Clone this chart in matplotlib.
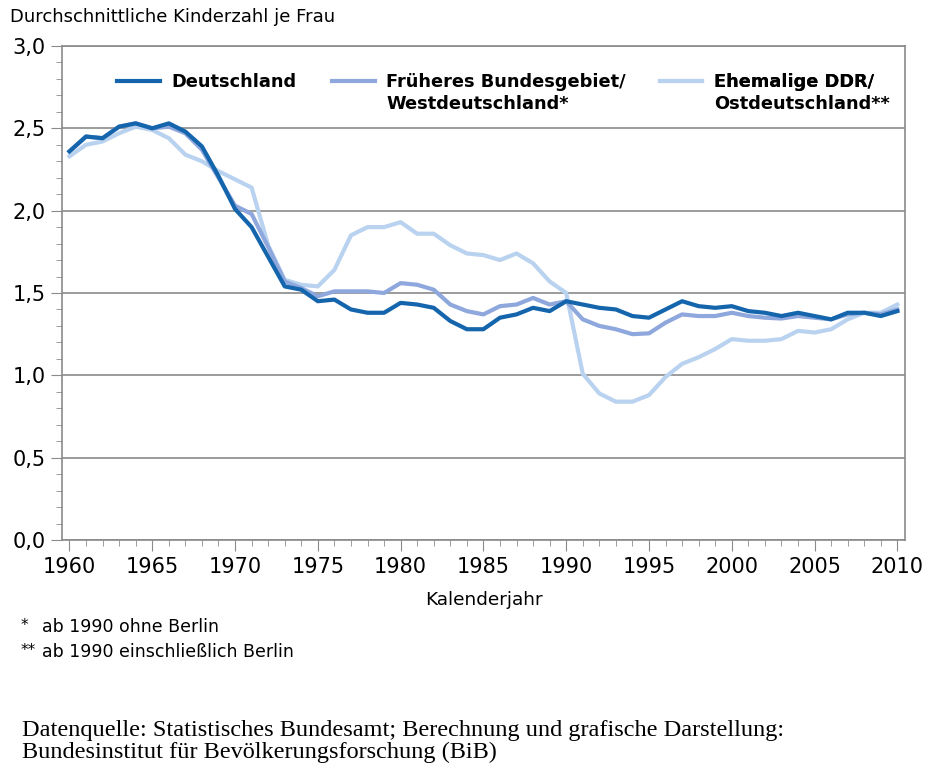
import matplotlib
matplotlib.use("Agg")
import matplotlib.pyplot as plt
from matplotlib.ticker import MultipleLocator, FuncFormatter

# Jahre 1960 - 2010
jahre = list(range(1960, 2011))

# Werte
deutschland = [2.36, 2.45, 2.44, 2.51, 2.53, 2.50, 2.53, 2.48, 2.39, 2.21,
               2.01, 1.90, 1.72, 1.54, 1.52, 1.45, 1.46, 1.40, 1.38, 1.38,
               1.44, 1.43, 1.41, 1.33, 1.28, 1.28, 1.35, 1.37, 1.41, 1.39,
               1.45, 1.43, 1.41, 1.40, 1.36, 1.35, 1.40, 1.45, 1.42, 1.41,
               1.42, 1.39, 1.38, 1.36, 1.38, 1.36, 1.34, 1.38, 1.38, 1.36,
               1.39]
west = [2.36, 2.45, 2.44, 2.51, 2.53, 2.50, 2.51, 2.47, 2.37, 2.20,
        2.03, 1.98, 1.78, 1.57, 1.53, 1.48, 1.51, 1.51, 1.51, 1.50,
        1.56, 1.55, 1.52, 1.43, 1.39, 1.37, 1.42, 1.43, 1.47, 1.43,
        1.45, 1.34, 1.30, 1.28, 1.25, 1.255, 1.32, 1.37, 1.36, 1.36,
        1.38, 1.36, 1.35, 1.345, 1.36, 1.35, 1.34, 1.37, 1.38, 1.37,
        1.40]
ost = [2.33, 2.40, 2.42, 2.47, 2.51, 2.49, 2.44, 2.34, 2.30, 2.24,
       2.19, 2.14, 1.79, 1.58, 1.55, 1.54, 1.64, 1.85, 1.90, 1.90,
       1.93, 1.86, 1.86, 1.79, 1.74, 1.73, 1.70, 1.74, 1.68, 1.57,
       1.50, 1.01, 0.89, 0.84, 0.84, 0.88, 0.99, 1.07, 1.11, 1.16,
       1.22, 1.21, 1.21, 1.22, 1.27, 1.26, 1.28, 1.34, 1.38, 1.38,
       1.43]

# Legendentexte (erste Zeile, zweite Zeile)
label_zeile1 = ['Deutschland', 'Früheres Bundesgebiet/', 'Ehemalige DDR/']
label_zeile2 = ['', 'Westdeutschland*', 'Ostdeutschland**']
farben = ['#1565ad', '#8ea7dc', '#b9d2ef']

fig = plt.figure(figsize=(9.28, 7.66), dpi=100)
ax = fig.add_axes([0.067, 0.295, 0.908, 0.645])

lw = 3.0
l3, = ax.plot(jahre, ost, color=farben[2], lw=lw, solid_joinstyle='round', zorder=3)
l2, = ax.plot(jahre, west, color=farben[1], lw=lw, solid_joinstyle='round', zorder=4)
l1, = ax.plot(jahre, deutschland, color=farben[0], lw=lw, solid_joinstyle='round', zorder=5)

ax.set_xlim(1959.56, 2010.45)
ax.set_ylim(0, 3.0)

ax.yaxis.set_major_locator(MultipleLocator(0.5))
ax.yaxis.set_minor_locator(MultipleLocator(0.1))
ax.xaxis.set_major_locator(MultipleLocator(5))
ax.xaxis.set_minor_locator(MultipleLocator(1))
ax.yaxis.set_major_formatter(FuncFormatter(lambda v, p: f'{v:.1f}'.replace('.', ',')))

ax.grid(axis='y', which='major', color='#8a8a8a', lw=1.2, zorder=1)
for s in ax.spines.values():
    s.set_color('#8a8a8a')
    s.set_linewidth(1.2)

ax.tick_params(axis='both', which='major', length=8, color='#8a8a8a',
               labelsize=15, pad=4)
ax.tick_params(axis='both', which='minor', length=4, color='#8a8a8a')

ax.set_xlabel('Kalenderjahr', fontsize=13.3, labelpad=10)

# drei Legenden, Linie jeweils auf Höhe der ersten Zeile
legenden = []
for linie, text, x0 in zip([l1, l2, l3], label_zeile1, [0.126, 0.358, 0.711]):
    lg = ax.legend([linie], [text], frameon=False, loc='center left',
                   bbox_to_anchor=(x0, 0.893), bbox_transform=fig.transFigure,
                   borderpad=0, borderaxespad=0, handlelength=2.4,
                   handletextpad=0.65, prop={'weight': 'bold', 'size': 12.8})
    ax.add_artist(lg)
    legenden.append(lg)

fig.canvas.draw()
inv = fig.transFigure.inverted()
for lg, text2 in zip(legenden, label_zeile2):
    if text2:
        bb = lg.get_texts()[0].get_window_extent()
        x_fig = inv.transform((bb.x0, bb.y0))[0]
        fig.text(x_fig, 0.864, text2, fontsize=12.8, weight='bold', va='center')

fig.text(0.011, 0.978, 'Durchschnittliche Kinderzahl je Frau', fontsize=13, va='center')
fig.text(0.022, 0.184, '*', fontsize=11, va='center')
fig.text(0.045, 0.182, 'ab 1990 ohne Berlin', fontsize=12.5, va='center')
fig.text(0.022, 0.151, '**', fontsize=11, va='center')
fig.text(0.045, 0.149, 'ab 1990 einschließlich Berlin', fontsize=12.5, va='center')

fig.text(0.024, 0.032, 'Datenquelle: Statistisches Bundesamt; Berechnung und grafische Darstellung:\n'
         'Bundesinstitut für Bevölkerungsforschung (BiB)',
         fontsize=17.5, family='Liberation Serif', va='center', linespacing=1.0)

fig.savefig('out.png', dpi=100)
